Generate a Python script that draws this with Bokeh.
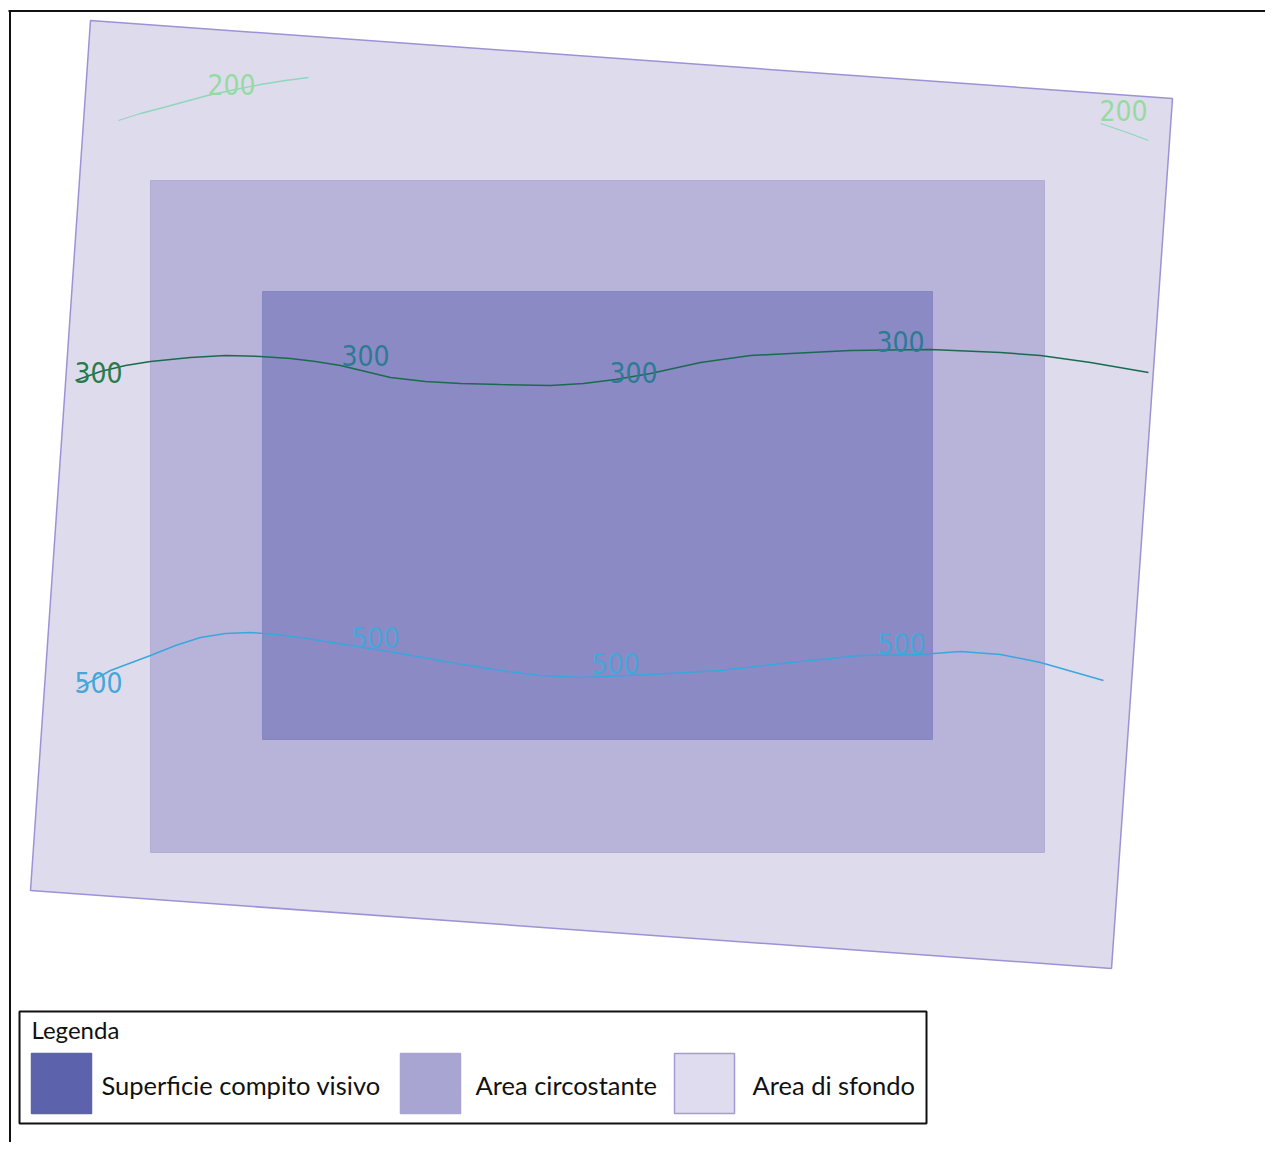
from bokeh.plotting import figure
from bokeh.models import Range1d
from bokeh.core.properties import value
from bokeh.embed import file_html
from bokeh.resources import INLINE

# ---- map data (image/map coordinates, y grows downward) ----
sfondo_x = [90, 1172, 1111, 30]
sfondo_y = [20, 98, 968, 890]

circostante_x = [150, 1044]
circostante_y = [180, 852]

compito_x = [262, 932]
compito_y = [291, 739]

c200a_x = [118, 140, 163, 185, 207, 235, 260, 285, 308]
c200a_y = [120, 113, 107, 101, 95, 89, 84, 80, 77]
c200b_x = [1100, 1115, 1132, 1148]
c200b_y = [123, 128, 134, 140]

c300_x = [75, 100, 125, 150, 190, 225, 260, 290, 315, 340, 365, 390, 425, 460, 500,
          550, 583, 615, 650, 700, 750, 790, 850, 930, 1000, 1040, 1090, 1148]
c300_y = [380, 371, 365, 361, 357, 355, 356, 358, 361, 365, 371, 377, 381, 383, 384,
          385, 383, 379, 373, 362, 355, 353, 350, 349, 352, 355, 362, 372]

c500_x = [78, 110, 150, 175, 200, 225, 250, 275, 300, 350, 400, 450, 500, 540, 580,
          650, 720, 790, 860, 920, 960, 1000, 1040, 1103]
c500_y = [688, 670, 655, 645, 637, 633, 632, 634, 637, 645, 653, 662, 670, 675, 677,
          674, 670, 662, 655, 654, 651, 654, 662, 680]

lab200_x = [231, 1123]
lab200_y = [84, 110]
lab300_x = [98, 365, 633, 900]
lab300_y = [372, 355, 372, 341]
lab500_x = [98, 375, 615, 901]
lab500_y = [682, 637, 663, 643]

legend_title = "Legenda"
legend_labels = ["Superficie compito visivo", "Area circostante", "Area di sfondo"]
legend_colors = ["#5C63AC", "#A9A5D2", "#DEDCEE"]
legend_lines = ["#5C63AC", "#A9A5D2", "#A39CD8"]

p = figure(width=1265, height=1142, output_backend="svg", toolbar_location=None,
           x_range=Range1d(0, 1265), y_range=Range1d(1142, 0),
           min_border=0, min_border_left=0, min_border_right=0,
           min_border_top=0, min_border_bottom=0)
p.axis.visible = False
p.grid.visible = False
p.outline_line_color = None
p.background_fill_color = "white"
p.border_fill_color = "white"

# frame lines (top and left)
p.segment(x0=[8, 9.5], y0=[10.5, 10], x1=[1273, 9.5], y1=[10.5, 1150],
          line_color="#111111", line_width=2)

# areas
p.patch(sfondo_x, sfondo_y, fill_color="#DEDCEC", line_color="#9C92D6", line_width=1.5)
p.quad(left=[circostante_x[0]], right=[circostante_x[1]],
       top=[circostante_y[0]], bottom=[circostante_y[1]],
       fill_color="#B8B4D9", line_color="#B2ADD6", line_width=1)
p.quad(left=[compito_x[0]], right=[compito_x[1]],
       top=[compito_y[0]], bottom=[compito_y[1]],
       fill_color="#8B8AC4", line_color="#8786C2", line_width=1)

# contour lines
p.line(c200a_x, c200a_y, line_color="#8FD6BC", line_width=1.3)
p.line(c200b_x, c200b_y, line_color="#8FD6BC", line_width=1.3)
p.line(c300_x, c300_y, line_color="#1B6A50", line_width=1.5)
p.line(c500_x, c500_y, line_color="#3AA6DE", line_width=1.5)

font_c = value("DejaVu Sans Condensed, Liberation Sans, sans-serif")
p.text(lab200_x, lab200_y, text=["200"] * len(lab200_x), text_font=font_c,
       text_font_size="28px", text_color="#95DBA0", text_align="center",
       text_baseline="middle")
p.text(lab300_x[:1], lab300_y[:1], text=["300"], text_font=font_c,
       text_font_size="28px", text_color="#2A7A4A", text_align="center",
       text_baseline="middle")
p.text(lab300_x[1:], lab300_y[1:], text=["300"] * (len(lab300_x) - 1), text_font=font_c,
       text_font_size="28px", text_color="#2C7A93", text_align="center",
       text_baseline="middle")
p.text(lab500_x, lab500_y, text=["500"] * len(lab500_x), text_font=font_c,
       text_font_size="28px", text_color="#45A6DA", text_align="center",
       text_baseline="middle")

# legend box
p.quad(left=[19], right=[926], top=[1011], bottom=[1123],
       fill_color="white", line_color="#111111", line_width=2)
font_l = value("Lato")
p.text([31], [1029], text=[legend_title], text_font=font_l, text_font_size="24px",
       text_color="#111111", text_align="left", text_baseline="middle")
sw_left = [31, 400, 674]
lab_left = [101, 475, 752]
p.quad(left=sw_left, right=[s + 60 for s in sw_left], top=[1053] * 3, bottom=[1113] * 3,
       fill_color=legend_colors, line_color=legend_lines, line_width=1.5)
p.text(lab_left, [1084] * 3, text=legend_labels, text_font=font_l, text_font_size="25.5px",
       text_color="#111111", text_align="left", text_baseline="middle")

open("out.html", "w").write(file_html(p, INLINE))
